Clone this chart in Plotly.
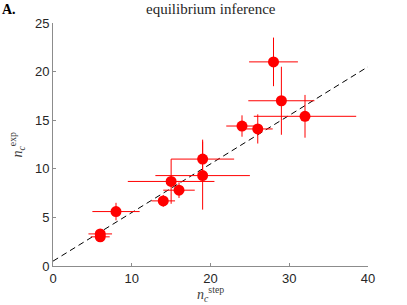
import plotly.graph_objects as go

n_step = [28, 29, 32, 24, 26, 19, 19, 15, 16, 14, 8, 6, 6]
n_exp = [21.0, 17.0, 15.4, 14.4, 14.1, 11.0, 9.3, 8.7, 7.8, 6.7, 5.6, 3.3, 3.0]
step_err = [3.1, 4.2, 6.5, 2.0, 1.9, 4.0, 6.0, 5.5, 2.0, 1.5, 3.0, 1.5, 1.2]
exp_err = [2.5, 3.5, 2.2, 1.1, 1.5, 2.0, 3.5, 2.3, 0.8, 0.6, 0.9, 0.5, 0.4]

fit_x = [0, 40]
fit_y = [0.5, 20.5]

x_ticks = [0, 10, 20, 30, 40]
y_ticks = [0, 5, 10, 15, 20, 25]

fig = go.Figure()
fig.add_trace(go.Scatter(
    x=fit_x, y=fit_y, mode="lines",
    line=dict(color="black", width=1, dash="6px,4px"),
    hoverinfo="skip", showlegend=False))
fig.add_trace(go.Scatter(
    x=n_step, y=n_exp, mode="markers",
    marker=dict(color="rgb(255,0,0)", size=11, line=dict(width=0)),
    error_x=dict(type="data", array=step_err, color="rgb(255,0,0)", thickness=1, width=0),
    error_y=dict(type="data", array=exp_err, color="rgb(255,0,0)", thickness=1, width=0),
    showlegend=False))

axis_common = dict(
    showgrid=False, zeroline=False, showline=True, linecolor="#8c8c8c", linewidth=1,
    ticks="inside", ticklen=3, tickcolor="#8c8c8c", tickwidth=1,
    tickfont=dict(family="Liberation Sans, Arial, sans-serif", size=13, color="#262626"),
)
fig.update_xaxes(range=[0, 40], tickvals=x_ticks, **axis_common)
fig.update_yaxes(range=[0, 25], tickvals=y_ticks, **axis_common)

serif = "Liberation Serif, DejaVu Serif, serif"
fig.update_layout(
    width=407, height=305,
    margin=dict(l=53, r=39, t=23, b=39),
    plot_bgcolor="white", paper_bgcolor="white",
    showlegend=False,
    hovermode=False,
    annotations=[
        dict(text="equilibrium inference", x=0.5, xref="paper", y=1.0, yref="paper",
             yanchor="middle", yshift=14, showarrow=False,
             font=dict(family=serif, size=15, color="#262626")),
        dict(text="<b>A.</b>", x=0, xref="paper", y=1.0, yref="paper",
             xanchor="left", yanchor="middle", xshift=-53, yshift=14, showarrow=False,
             font=dict(family=serif, size=14, color="black")),
        dict(text="<i>n</i><sub><i>c</i></sub><sup>step</sup>", x=0.5, xref="paper", y=0, yref="paper",
             yanchor="middle", yshift=-28, showarrow=False,
             font=dict(family=serif, size=14, color="#404040")),
        dict(text="<i>n</i><sub><i>c</i></sub><sup>exp</sup>", x=0, xref="paper", y=0.5, yref="paper",
             xanchor="center", yanchor="middle", xshift=-36, textangle=-90, showarrow=False,
             font=dict(family=serif, size=14, color="#404040")),
    ],
)

fig.write_html("out.html", config={"displayModeBar": False},
               post_script="document.body.style.margin='0';")
